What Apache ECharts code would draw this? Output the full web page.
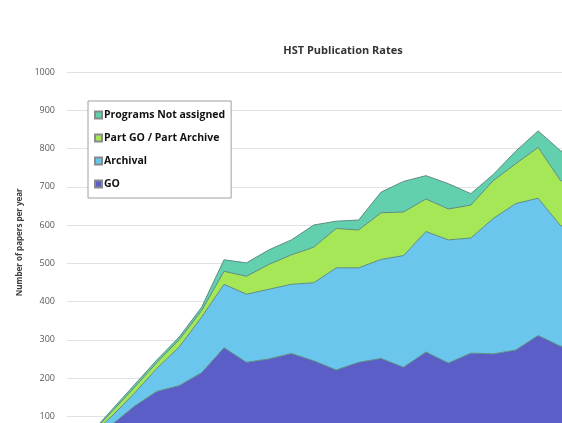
<!DOCTYPE html>
<html lang="en">
<head>
    <meta charset="utf-8">
    <title>HST Publication Rates</title>
    <script src="https://cdn.jsdelivr.net/npm/echarts@6/dist/echarts.min.js"></script>
</head>
<body style="margin:0; overflow:hidden;">
    <!-- the chart is larger than the window: x axis and right end are cut off, as in the reference -->
    <div id="chart" style="width: 583px; height: 459px;"></div>
<script type="text/javascript">
    // years (x axis sits below the visible window)
    const years = ['1990', '1991', '1992', '1993', '1994', '1995', '1996', '1997', '1998', '1999', '2000', '2001',
        '2002', '2003', '2004', '2005', '2006', '2007', '2008', '2009', '2010', '2011', '2012', '2013'];
    // papers per year, by category (stacked)
    const goPapers = [0, 35, 78, 126, 165, 180, 214, 279, 241, 250, 264, 245, 221, 241, 251, 228, 268, 239, 265, 263, 273, 311, 283, 290];
    const archivalPapers = [0, 12, 22, 34, 60, 101, 145, 166, 178, 182, 181, 204, 267, 247, 259, 292, 315, 322, 301, 354, 383, 359, 315, 310];
    const partPapers = [0, 3, 12, 15, 15, 19, 17, 34, 47, 65, 77, 93, 103, 99, 122, 114, 85, 81, 86, 99, 104, 133, 118, 110];
    const notAssigned = [0, 2, 5, 7, 7, 7, 9, 30, 35, 38, 39, 58, 19, 26, 54, 80, 61, 66, 30, 16, 33, 43, 78, 70];

    const edge = '#5e8c80';
    function layer(name, data, color) {
        return {
            name: name,
            type: 'line',
            stack: 'total',
            data: data,
            symbol: 'none',
            lineStyle: { color: edge, width: 1 },
            areaStyle: { color: color, opacity: 1 },
            itemStyle: { color: color, borderColor: '#8a8a8a', borderWidth: 0.5 }
        };
    }

    let myChart = echarts.init(document.getElementById('chart'));
    let option = {
        animation: false,
        title: {
            text: 'HST Publication Rates',
            left: 343,
            textAlign: 'center',
            top: 45,
            padding: 0,
            textStyle: { fontFamily: 'Open Sans', fontSize: 11, fontWeight: 'bold', color: '#333' }
        },
        legend: {
            orient: 'vertical',
            left: 88,
            top: 101,
            padding: [7, 6, 7, 6],
            backgroundColor: '#fff',
            borderColor: '#a0a0a0',
            borderWidth: 1,
            itemWidth: 7,
            itemHeight: 7,
            itemGap: 9,
            icon: 'rect',
            data: ['Programs Not assigned', 'Part GO / Part Archive', 'Archival', 'GO'],
            textStyle: { fontFamily: 'Open Sans', fontSize: 10.5, lineHeight: 14, fontWeight: 'bold', color: '#111', padding: [0, 0, 0, -3] }
        },
        grid: { left: 67, right: 0, top: 72, bottom: 0 },
        xAxis: {
            type: 'category',
            data: years,
            boundaryGap: false,
            axisLine: { show: false },
            axisTick: { show: false },
            axisLabel: { show: false }
        },
        yAxis: {
            type: 'value',
            min: 0,
            max: 1000,
            interval: 100,
            name: 'Number of papers per year',
            nameLocation: 'middle',
            nameRotate: 90,
            nameGap: 41,
            nameTextStyle: { fontFamily: 'Open Sans', fontSize: 8, fontWeight: 'bold', color: '#404040', padding: [0, 0, 0, 42] },
            axisLabel: {
                fontFamily: 'Open Sans', fontSize: 9, color: '#595959', margin: 12,
                formatter: function (v) { return String(v); }
            },
            splitLine: { lineStyle: { color: '#e2e2e2', width: 1 } }
        },
        series: [
            layer('GO', goPapers, '#5a5ec6'),
            layer('Archival', archivalPapers, '#6bc6ee'),
            layer('Part GO / Part Archive', partPapers, '#a5e757'),
            layer('Programs Not assigned', notAssigned, '#62cfae')
        ]
    };
    myChart.setOption(option);
</script>
</body>
</html>
